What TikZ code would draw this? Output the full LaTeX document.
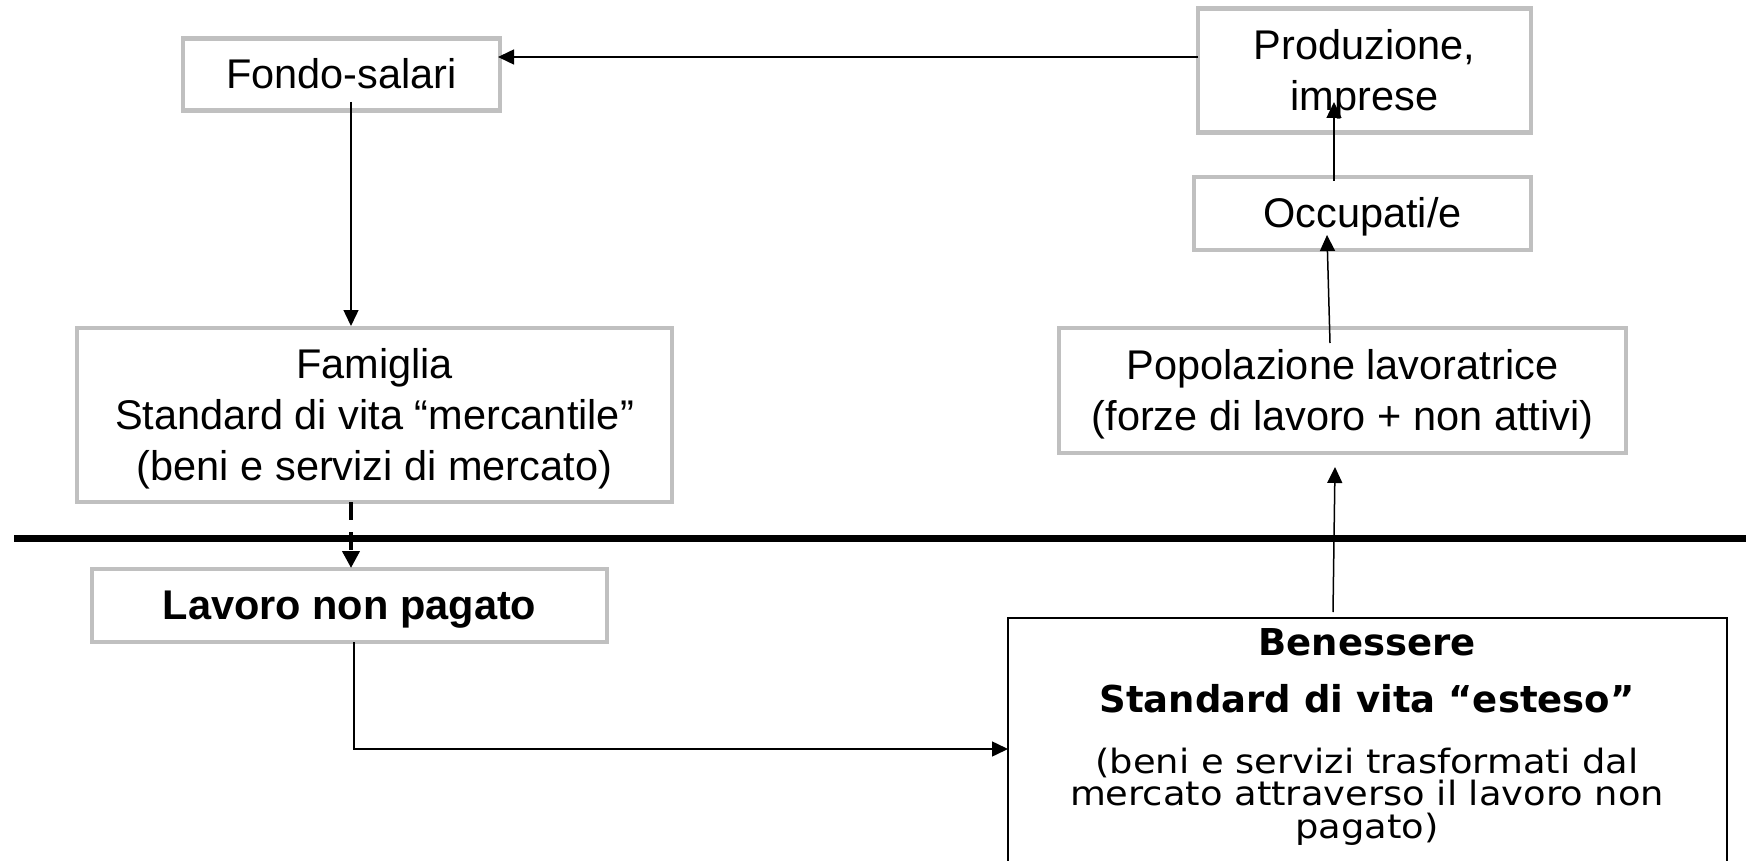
\documentclass[tikz,border=0pt]{standalone}
\usepackage{fontspec}
\setmainfont{Liberation Sans}
\newfontfamily\dvfont{DejaVu Sans}
\newfontfamily\dvwide[FakeStretch=1.1]{DejaVu Sans}
\usetikzlibrary{arrows.meta}
\definecolor{boxgray}{HTML}{C0C0C0}
\newcommand{\mystrut}{\rule[-0.212em]{0pt}{1.117em}}
\begin{document}
\begin{tikzpicture}[x=1pt,y=-1pt,
  gbox/.style={draw=boxgray, line width=4.5pt, inner sep=0pt, align=center,
    font=\fontsize{41.5}{51}\selectfont},
  arr/.style={line width=1.5pt, -{Triangle[width=15pt,length=16pt]}},
  darr/.style={line width=4pt, dash pattern=on 18pt off 12pt, -{Triangle[width=17pt,length=17pt]}},
  bentxt/.style={anchor=base, font=\dvfont\fontsize{37}{44}\selectfont\bfseries},
  bensub/.style={anchor=base, font=\dvwide\fontsize{33.5}{33.5}\selectfont}]
\useasboundingbox (0,0) rectangle (1746,861);

% boxes
\node[gbox, minimum width=317pt, minimum height=72pt] (fondo) at (341.5,74.5) {\mystrut Fondo-salari};
\node[gbox, minimum width=333pt, minimum height=124pt] (prod) at (1364.5,70.5) {\mystrut Produzione,\\\mystrut imprese};
\node[gbox, minimum width=337pt, minimum height=73pt] (occ) at (1362.5,213.5) {\mystrut Occupati/e};
\node[gbox, minimum width=595pt, minimum height=174pt] (fam) at (374.5,415) {\mystrut Famiglia\\\mystrut Standard di vita “mercantile”\\\mystrut (beni e servizi di mercato)};
\node[gbox, minimum width=567pt, minimum height=125pt] (pop) at (1342.5,390.5) {\mystrut Popolazione lavoratrice\\\mystrut (forze di lavoro + non attivi)};
\node[gbox, minimum width=515pt, minimum height=73pt, font=\fontsize{41.5}{51}\selectfont\bfseries] (lav) at (349.5,605.5) {\mystrut Lavoro non pagato};

\node[draw, line width=1.5pt, minimum width=719pt, minimum height=300pt, anchor=north, inner sep=0pt] (ben) at (1367.5,617) {};
\node[bentxt] (ben1) at (1367,655) {Benessere};
\node[bentxt] (ben2) at (1367,712) {Standard di vita “esteso”};
\node[bensub] (ben3) at (1367,773) {(beni e servizi trasformati dal};
\node[bensub] (ben4) at (1367,805) {mercato attraverso il lavoro non};
\node[bensub] (ben5) at (1367,838) {pagato)};

% separator
\coordinate (sepL) at (14,538);
\coordinate (sepR) at (1746,538);
\draw[line width=7pt] (sepL) -- (sepR);

% connector end points
\coordinate (pf1) at (1198,57);
\coordinate (pf2) at (498,57);
\coordinate (ff1) at (351,102);
\coordinate (ff2) at (351,326);
\coordinate (fl1) at (351,502);
\coordinate (fl2) at (351,568);
\coordinate (lb1) at (354,642);
\coordinate (lb2) at (1008,749);
\coordinate (bp1) at (1333,612);
\coordinate (bp2) at (1335,467);
\coordinate (po1) at (1330,343);
\coordinate (po2) at (1327,235);
\coordinate (op1) at (1334,181);
\coordinate (op2) at (1334,102);

% connectors
\draw[arr] (pf1) -- (pf2);
\draw[arr] (ff1) -- (ff2);
\draw[darr] (fl1) -- (fl2);
\draw[arr] (lb1) |- (lb2);
\draw[arr] (bp1) -- (bp2);
\draw[arr] (po1) -- (po2);
\draw[arr] (op1) -- (op2);
\end{tikzpicture}
\end{document}
